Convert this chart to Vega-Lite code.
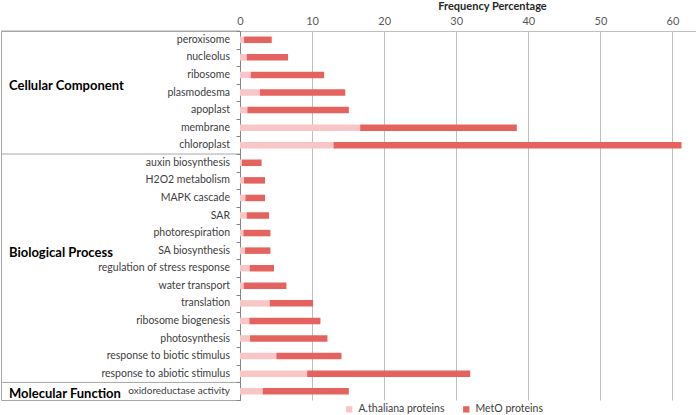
{
  "$schema": "https://vega.github.io/schema/vega-lite/v6.json",
  "padding": 0,
  "background": "white",
  "spacing": 0,
  "bounds": "flush",
  "resolve": {"legend": {"color": "independent"}},
  "config": {
    "view": {"stroke": null},
    "font": "Lato",
    "axis": {"labelFont": "Lato", "titleFont": "Lato"},
    "legend": {"labelFont": "Lato"}
  },
  "datasets": {
    "bars": [
      {"category": "peroxisome", "series": "A.thaliana proteins", "value": 0.56},
      {"category": "peroxisome", "series": "MetO proteins", "value": 3.84},
      {"category": "nucleolus", "series": "A.thaliana proteins", "value": 0.93},
      {"category": "nucleolus", "series": "MetO proteins", "value": 5.74},
      {"category": "ribosome", "series": "A.thaliana proteins", "value": 1.49},
      {"category": "ribosome", "series": "MetO proteins", "value": 10.18},
      {"category": "plasmodesma", "series": "A.thaliana proteins", "value": 2.78},
      {"category": "plasmodesma", "series": "MetO proteins", "value": 11.82},
      {"category": "apoplast", "series": "A.thaliana proteins", "value": 1.02},
      {"category": "apoplast", "series": "MetO proteins", "value": 14.08},
      {"category": "membrane", "series": "A.thaliana proteins", "value": 16.67},
      {"category": "membrane", "series": "MetO proteins", "value": 21.73},
      {"category": "chloroplast", "series": "A.thaliana proteins", "value": 12.97},
      {"category": "chloroplast", "series": "MetO proteins", "value": 48.28},
      {"category": "auxin biosynthesis", "series": "A.thaliana proteins", "value": 0.28},
      {"category": "auxin biosynthesis", "series": "MetO proteins", "value": 2.72},
      {"category": "H2O2 metabolism", "series": "A.thaliana proteins", "value": 0.56},
      {"category": "H2O2 metabolism", "series": "MetO proteins", "value": 2.91},
      {"category": "MAPK cascade", "series": "A.thaliana proteins", "value": 0.75},
      {"category": "MAPK cascade", "series": "MetO proteins", "value": 2.72},
      {"category": "SAR", "series": "A.thaliana proteins", "value": 0.93},
      {"category": "SAR", "series": "MetO proteins", "value": 3.10},
      {"category": "photorespiration", "series": "A.thaliana proteins", "value": 0.47},
      {"category": "photorespiration", "series": "MetO proteins", "value": 3.75},
      {"category": "SA biosynthesis", "series": "A.thaliana proteins", "value": 0.70},
      {"category": "SA biosynthesis", "series": "MetO proteins", "value": 3.52},
      {"category": "regulation of stress response", "series": "A.thaliana proteins", "value": 1.35},
      {"category": "regulation of stress response", "series": "MetO proteins", "value": 3.37},
      {"category": "water transport", "series": "A.thaliana proteins", "value": 0.51},
      {"category": "water transport", "series": "MetO proteins", "value": 5.93},
      {"category": "translation", "series": "A.thaliana proteins", "value": 4.12},
      {"category": "translation", "series": "MetO proteins", "value": 6.02},
      {"category": "ribosome biogenesis", "series": "A.thaliana proteins", "value": 1.30},
      {"category": "ribosome biogenesis", "series": "MetO proteins", "value": 9.86},
      {"category": "photosynthesis", "series": "A.thaliana proteins", "value": 1.39},
      {"category": "photosynthesis", "series": "MetO proteins", "value": 10.74},
      {"category": "response to biotic stimulus", "series": "A.thaliana proteins", "value": 5.05},
      {"category": "response to biotic stimulus", "series": "MetO proteins", "value": 9.03},
      {"category": "response to abiotic stimulus", "series": "A.thaliana proteins", "value": 9.31},
      {"category": "response to abiotic stimulus", "series": "MetO proteins", "value": 22.63},
      {"category": "oxidoreductase activity", "series": "A.thaliana proteins", "value": 3.15},
      {"category": "oxidoreductase activity", "series": "MetO proteins", "value": 11.95}
    ],
    "cats": [
      {"category": "peroxisome", "group": "Cellular Component"},
      {"category": "nucleolus", "group": "Cellular Component"},
      {"category": "ribosome", "group": "Cellular Component"},
      {"category": "plasmodesma", "group": "Cellular Component"},
      {"category": "apoplast", "group": "Cellular Component"},
      {"category": "membrane", "group": "Cellular Component"},
      {"category": "chloroplast", "group": "Cellular Component"},
      {"category": "auxin biosynthesis", "group": "Biological Process"},
      {"category": "H2O2 metabolism", "group": "Biological Process"},
      {"category": "MAPK cascade", "group": "Biological Process"},
      {"category": "SAR", "group": "Biological Process"},
      {"category": "photorespiration", "group": "Biological Process"},
      {"category": "SA biosynthesis", "group": "Biological Process"},
      {"category": "regulation of stress response", "group": "Biological Process"},
      {"category": "water transport", "group": "Biological Process"},
      {"category": "translation", "group": "Biological Process"},
      {"category": "ribosome biogenesis", "group": "Biological Process"},
      {"category": "photosynthesis", "group": "Biological Process"},
      {"category": "response to biotic stimulus", "group": "Biological Process"},
      {"category": "response to abiotic stimulus", "group": "Biological Process"},
      {"category": "oxidoreductase activity", "group": "Molecular Function"}
    ],
    "groups": [
      {"group": "Cellular Component", "first": "peroxisome", "labelAt": "plasmodesma"},
      {"group": "Biological Process", "first": "auxin biosynthesis", "labelAt": "SA biosynthesis"},
      {"group": "Molecular Function", "first": "oxidoreductase activity", "labelAt": "oxidoreductase activity"}
    ]
  },
  "hconcat": [
    {
      "width": 239,
      "height": 369,
      "view": {"stroke": "#a6a6a6", "strokeWidth": 1},
      "layer": [
        {
          "data": {"name": "cats"},
          "mark": {"type": "text", "align": "right", "baseline": "middle", "dx": -10, "color": "#404040"},
          "encoding": {
            "y": {"field": "category", "type": "nominal",
                  "scale": {"domain": ["peroxisome","nucleolus","ribosome","plasmodesma","apoplast","membrane","chloroplast","auxin biosynthesis","H2O2 metabolism","MAPK cascade","SAR","photorespiration","SA biosynthesis","regulation of stress response","water transport","translation","ribosome biogenesis","photosynthesis","response to biotic stimulus","response to abiotic stimulus","oxidoreductase activity"], "paddingInner": 0, "paddingOuter": 0},
                  "axis": null},
            "x": {"datum": 1, "type": "quantitative", "scale": {"domain": [0, 1]}, "axis": null},
            "text": {"field": "category"},
            "size": {"condition": {"test": "datum.category === 'oxidoreductase activity'", "value": 10}, "value": 10.5}
          }
        },
        {
          "data": {"name": "groups"},
          "mark": {"type": "rule", "color": "#a6a6a6", "strokeWidth": 1},
          "encoding": {
            "y": {"field": "first", "type": "nominal", "bandPosition": 0}
          }
        },
        {
          "data": {"name": "groups"},
          "transform": [{"filter": "datum.group == 'Cellular Component'"}],
          "mark": {"type": "text", "align": "left", "baseline": "middle", "dx": 8, "fontSize": 13, "fontWeight": "bold", "color": "#000000"},
          "encoding": {
            "y": {"field": "labelAt", "type": "nominal", "bandPosition": 0.15},
            "x": {"datum": 0, "type": "quantitative"},
            "text": {"field": "group"}
          }
        },
        {
          "data": {"name": "groups"},
          "transform": [{"filter": "datum.group != 'Cellular Component'"}],
          "mark": {"type": "text", "align": "left", "baseline": "middle", "dx": 8, "fontSize": 13, "fontWeight": "bold", "color": "#000000"},
          "encoding": {
            "y": {"field": "labelAt", "type": "nominal", "bandPosition": 0.65},
            "x": {"datum": 0, "type": "quantitative"},
            "text": {"field": "group"}
          }
        }
      ]
    },
    {
      "width": 457,
      "height": 369,
      "data": {"name": "bars"},
      "mark": {"type": "bar", "height": {"band": 0.37}},
      "encoding": {
        "y": {"field": "category", "type": "nominal",
              "scale": {"domain": ["peroxisome","nucleolus","ribosome","plasmodesma","apoplast","membrane","chloroplast","auxin biosynthesis","H2O2 metabolism","MAPK cascade","SAR","photorespiration","SA biosynthesis","regulation of stress response","water transport","translation","ribosome biogenesis","photosynthesis","response to biotic stimulus","response to abiotic stimulus","oxidoreductase activity"], "paddingInner": 0, "paddingOuter": 0},
              "axis": {"labels": false, "title": null, "ticks": true, "tickBand": "extent", "tickSize": 4, "tickColor": "#868686", "domainColor": "#868686", "grid": false}},
        "x": {"field": "value", "type": "quantitative", "stack": "zero",
              "scale": {"domain": [0, 63.4], "nice": false},
              "axis": {"orient": "top", "values": [0, 10, 20, 30, 40, 50, 60], "grid": true, "gridColor": "#bfbfbf", "domainColor": "#bfbfbf", "ticks": false, "labelFlush": false, "labelPadding": 5, "labelFontSize": 11, "labelColor": "#595959", "title": "Frequency Percentage", "titleFontWeight": "bold", "titleFontSize": 11, "titleColor": "#262626", "titlePadding": 4, "titleX": 252, "titleAlign": "center"}},
        "color": {"field": "series", "type": "nominal",
                  "scale": {"domain": ["A.thaliana proteins", "MetO proteins"], "range": ["#f8c6c6", "#e5635e"]},
                  "legend": {"title": null, "orient": "none", "legendX": 104, "legendY": 373, "padding": 0, "direction": "horizontal", "symbolType": "square", "symbolSize": 40, "symbolStrokeWidth": 0, "labelFontSize": 10.5, "labelColor": "#404040", "labelOffset": 4, "columnPadding": 16}}
      }
    }
  ]
}
